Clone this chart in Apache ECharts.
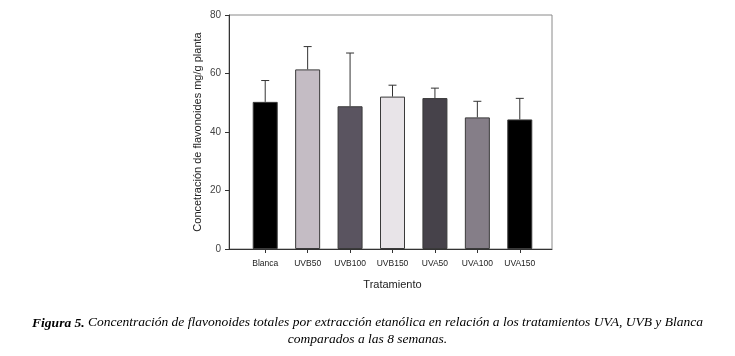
<!DOCTYPE html>
<html>
<head>
<meta charset="utf-8">
<script src="https://cdn.jsdelivr.net/npm/echarts@6/dist/echarts.min.js"></script>
<style>
  html, body { margin: 0; padding: 0; background: #fff; }
  #chart { width: 735px; height: 356px; }
</style>
</head>
<body>
<div id="chart"></div>
<script>
// Data
const treatments = ['Blanca', 'UVB50', 'UVB100', 'UVB150', 'UVA50', 'UVA100', 'UVA150'];
const means = [50.3, 61.4, 48.8, 52.1, 51.6, 45.0, 44.3];
const errTops = [57.6, 69.2, 67.0, 56.0, 55.0, 50.5, 51.5];
const barColors = ['#000000', '#c4bcc4', '#5a5460', '#e8e4e8', '#46424a', '#857e88', '#000000'];

const chart = echarts.init(document.getElementById('chart'), null, { renderer: 'canvas' });

const errData = treatments.map((t, i) => [i, means[i], errTops[i]]);

const serif = 'Liberation Serif';

const option = {
  animation: false,
  backgroundColor: '#fff',
  textStyle: { fontFamily: 'Liberation Sans, Arial, sans-serif' },
  grid: [
    // frame grid
    { left: 229, right: 183, top: 15, bottom: 107, show: true, borderColor: '#8a8a8a', borderWidth: 1, backgroundColor: 'transparent' },
    // bar grid
    { left: 244, right: 194, top: 15, bottom: 107 }
  ],
  xAxis: [
    {
      gridIndex: 0, type: 'value', min: 0, max: 1,
      axisLine: { show: true, onZero: false, lineStyle: { color: '#333' } },
      axisTick: { show: false }, axisLabel: { show: false }, splitLine: { show: false }
    },
    {
      gridIndex: 1,
      type: 'category',
      data: treatments,
      axisLine: { show: false },
      axisTick: { show: true, alignWithLabel: true, inside: false, length: 4, lineStyle: { color: '#333' } },
      axisLabel: { fontSize: 8.5, color: '#222', margin: 10 },
      name: 'Tratamiento',
      nameLocation: 'middle',
      nameGap: 30,
      nameTextStyle: { fontSize: 11, color: '#222' }
    }
  ],
  yAxis: [
    {
      gridIndex: 0,
      type: 'value',
      min: 0,
      max: 80,
      interval: 20,
      axisLine: { show: true, lineStyle: { color: '#333' } },
      axisTick: { show: true, length: 4, lineStyle: { color: '#333' } },
      splitLine: { show: false },
      axisLabel: { fontSize: 10, color: '#444', margin: 8 },
      name: 'Concetración de flavonoides mg/g planta',
      nameLocation: 'middle',
      nameGap: 26,
      nameTextStyle: { fontSize: 11, color: '#222' }
    },
    { gridIndex: 1, type: 'value', min: 0, max: 80, show: false }
  ],
  series: [
    {
      type: 'bar',
      xAxisIndex: 1,
      yAxisIndex: 1,
      barWidth: 25,
      data: means.map((v, i) => ({
        value: v,
        itemStyle: { color: barColors[i], borderColor: '#3a3a3a', borderWidth: 1 }
      })),
      z: 2
    },
    {
      type: 'custom',
      xAxisIndex: 1,
      yAxisIndex: 1,
      data: errData,
      z: 3,
      renderItem: function (params, api) {
        const x = api.value(0);
        const base = api.coord([x, api.value(1)]);
        const top = api.coord([x, api.value(2)]);
        const half = 4;
        const style = { stroke: '#333', lineWidth: 1 };
        return {
          type: 'group',
          children: [
            { type: 'line', shape: { x1: base[0], y1: base[1], x2: top[0], y2: top[1] }, style: style },
            { type: 'line', shape: { x1: top[0] - half, y1: top[1], x2: top[0] + half, y2: top[1] }, style: style }
          ]
        };
      }
    }
  ],
  graphic: [
    {
      type: 'text',
      left: 'center',
      top: 313,
      style: {
        text: '{b|Figura 5.}{n| Concentración de flavonoides totales por extracción etanólica en relación a los tratamientos UVA, UVB y Blanca}',
        font: 'italic 13.5px Liberation Serif',
        fill: '#000',
        rich: {
          b: { font: 'italic bold 13.5px Liberation Serif', lineHeight: 16, verticalAlign: 'middle', padding: [4, 0, 0, 0] },
          n: { font: 'italic 13.5px Liberation Serif', lineHeight: 16, verticalAlign: 'middle' }
        }
      }
    },
    {
      type: 'text',
      left: 'center',
      top: 332,
      style: {
        text: 'comparados a las 8 semanas.',
        fontFamily: serif,
        fontStyle: 'italic',
        fontSize: 13.5,
        fill: '#000'
      }
    }
  ]
};

chart.setOption(option);
</script>
</body>
</html>
